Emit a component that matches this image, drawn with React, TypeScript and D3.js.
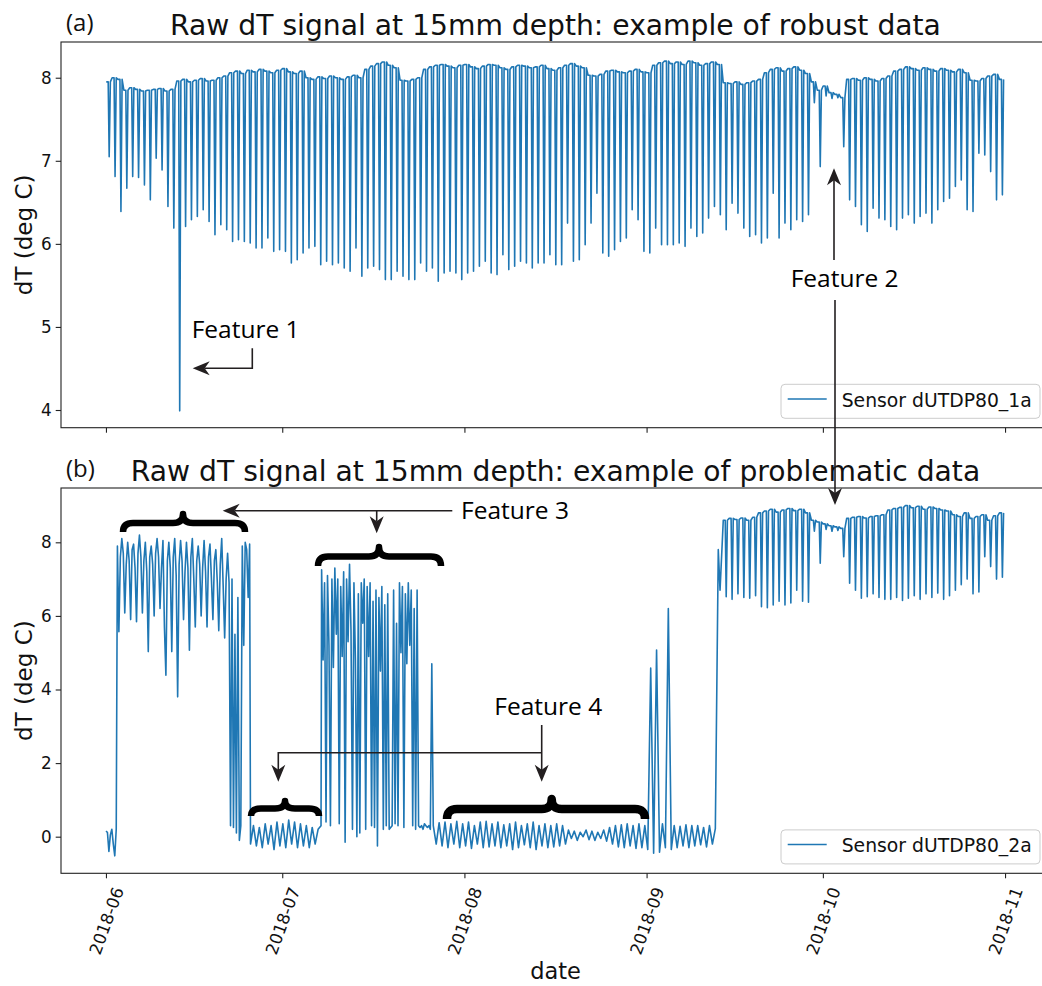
import { useEffect, useRef } from "react";
import * as d3 from "d3";

// ---------- data ----------
// day 0 = 2018-06-01

// sensor dUTDP80_1a: daily plateau and daily dip (one value per day)
const robustHigh = [
  7.95, 8.0, 7.98,
  7.85, 7.88, 7.86, 7.84, 7.85, 7.86, 7.87, 7.84, 7.86,
  7.96, 7.98, 7.95, 7.97, 7.99, 7.96, 7.97, 8.0,
  8.02, 8.06, 8.08, 8.05, 8.09, 8.07, 8.1, 8.08, 8.06, 8.09, 8.11, 8.07, 8.05, 8.08,
  8.0, 7.98, 8.01, 7.99, 8.02, 8.0, 7.98, 8.01, 8.03, 8.0,
  8.1, 8.14, 8.17, 8.19, 8.15, 8.12,
  7.97, 7.96, 7.98, 8.0,
  8.1, 8.13, 8.15, 8.16, 8.14, 8.12, 8.15, 8.16, 8.13, 8.11, 8.14, 8.16, 8.15, 8.12, 8.1, 8.13, 8.15, 8.14, 8.12, 8.13, 8.15, 8.11, 8.09, 8.12,
  8.15, 8.17, 8.14, 8.12,
  8.03, 8.02, 8.04,
  8.08, 8.09, 8.07, 8.06, 8.08, 8.1, 8.07, 8.06,
  8.15, 8.18, 8.2, 8.17, 8.19, 8.16, 8.2, 8.18, 8.15, 8.17, 8.19, 8.16,
  7.94, 7.93, 7.95, 7.92, 7.94, 7.96, 7.98,
  8.06, 8.1, 8.12, 8.08, 8.11, 8.13, 8.09, 8.05, 7.95,
  7.85, 7.9, 7.82, 7.8, 7.76,
  7.98, 7.99, 7.97, 8.0, 7.98, 7.96, 7.99, 8.02,
  8.08, 8.1, 8.13, 8.11, 8.09, 8.12, 8.1, 8.08, 8.11, 8.09, 8.07, 8.1, 8.06,
  7.97, 7.96, 7.99, 8.02, 8.04, 7.98,
];
const robustLow = [
  7.05, 6.81, 6.39, 6.67, 6.81, 6.8, 6.71, 6.53, 7.03, 6.89,
  6.45, 6.19, 3.99, 6.21, 6.29, 6.33, 6.41, 6.27, 6.11, 6.23,
  6.17, 6.03, 6.05, 6.03, 6.01, 5.95, 5.95, 6.07, 5.91, 5.93,
  5.91, 5.77, 5.81, 5.89, 5.95, 5.97, 5.75, 5.79, 5.75, 5.77,
  5.71, 5.67, 5.95, 5.61, 5.71, 5.73, 5.69, 5.57, 5.57, 5.67,
  5.61, 5.57, 5.57, 5.77, 5.67, 5.71, 5.55, 5.65, 5.67, 5.65,
  5.57, 5.65, 5.67, 5.73, 5.79, 5.65, 5.63, 5.87, 5.69, 5.73,
  5.79, 5.77, 5.71, 5.77, 5.77, 5.87, 5.75, 5.75, 6.25, 5.79,
  5.81, 5.99, 6.25, 6.61, 5.89, 5.85, 5.93, 6.03, 6.07, 6.41,
  6.29, 5.91, 5.89, 6.19, 5.99, 5.99, 5.99, 6.01, 5.97, 6.19,
  6.09, 6.13, 6.31, 6.45, 6.35, 6.17, 6.49, 6.37, 6.19, 6.09,
  6.11, 6.01, 6.07, 6.61, 6.07, 6.25, 6.17, 6.29, 6.27, 6.35,
  7.7, 6.93, 7.78, 7.75, 7.76, 7.17, 6.53, 6.45, 6.23, 6.15,
  6.43, 6.31, 6.29, 6.21, 6.17, 6.31, 6.35, 6.25, 6.33, 6.37,
  6.25, 6.41, 6.51, 6.55, 6.69, 6.77, 6.41, 6.39, 7.09, 7.07,
  6.87, 6.53, 6.59,
];

// sensor dUTDP80_2a, read piece by piece
const probLead = [0.15, 0.12, -0.4, 0.05, 0.2, -0.2, -0.52, 0.2]; // 6-hourly, from day 0
const probBurst1 = [ // 6-hourly, from day 1.95
  7.9, 5.57, 7.6, 8.1, 7.7, 6.08, 7.4, 8.0, 7.5, 5.9, 7.8, 7.95,
  7.3, 5.84, 7.7, 8.2, 7.6, 6.08, 7.5, 8.0, 7.2, 5.03, 7.6, 7.9,
  7.4, 6.0, 7.7, 8.1, 7.6, 6.2, 7.3, 8.05, 5.7, 4.39, 7.5, 8.0,
  7.3, 5.03, 7.6, 8.1, 7.1, 3.8, 7.4, 8.05, 7.5, 5.9, 7.2, 8.0,
  7.3, 5.07, 7.6, 8.1, 7.0, 5.7, 7.5, 7.9, 7.4, 6.0, 7.3, 8.05,
  7.2, 5.7, 7.6, 7.95, 7.0, 5.9, 7.5, 7.8, 6.9, 5.6, 7.4, 8.1,
  6.8, 5.4, 7.0, 7.7, 6.9, 0.3, 7.0, 0.25, 5.5, 0.1, 6.5, -0.1,
  0.3, 7.9, 5.2, 8.0, 7.8, 6.5, 7.95,
];
const probFlat1 = [ // 12-hourly, from day 24.6
  -0.2, 0.3, -0.25, 0.25, -0.3, 0.35, -0.2, 0.3, -0.35, 0.4, -0.25, 0.35, -0.3,
  0.45, -0.2, 0.4, -0.3, 0.35, -0.25, 0.3, -0.3, 0.25, -0.2, 0.2, 0.3,
];
const probBurst2 = [ // 6-hourly, from day 36.7
  7.25, 4.8, 6.9, 0.4, 7.1, 5.2, 0.3, 7.0, 4.6, 7.3, 5.5, 7.0,
  0.35, 6.8, 4.9, 7.2, -0.15, 7.0, 5.3, 7.4, 5.6, 0.2, 6.9, 4.8,
  0.0, 6.6, 0.1, 6.9, 5.8, 7.0, 0.2, 6.8, 4.9, 6.9, 0.3, 6.4,
  0.25, 6.7, -0.25, 6.5, 4.5, 6.8, 0.2, 6.3, 0.3, 6.6, 0.2, 0.25,
  0.3, 6.7, 0.35, 5.8, 0.3, 6.9, 5.0, 6.8, 0.25, 6.6, 4.7, 6.9,
  5.2, 6.7, 0.3, 6.2, 0.2, 6.7, 0.3, 0.25, 0.3, 0.2, 0.35, 0.3,
  0.25, 0.3, 0.2, 4.7,
];
const probFlat2 = [ // 12-hourly, from day 55.7
  0.3, -0.2, 0.38, -0.25, 0.4, -0.3, 0.35, -0.2, 0.42, -0.3,
  0.35, -0.25, 0.4, -0.32, 0.3, -0.2, 0.4, -0.3, 0.42, -0.28,
  0.35, -0.25, 0.4, -0.3, 0.32, -0.25, 0.35, -0.35, 0.4, -0.3,
  0.3, -0.22, 0.35, -0.3, 0.4, -0.35, 0.3, -0.25, 0.35, -0.3,
  0.3, -0.28, 0.35, -0.25, 0.3, -0.2, 0.18, -0.05, 0.15, -0.1,
  0.12, 0.0, 0.18, -0.08, 0.15, -0.1, 0.12, -0.05, 0.18, -0.12,
  0.25, -0.2, 0.3, -0.28, 0.32, -0.3, 0.35, -0.25, 0.3, -0.32,
  0.35, -0.3, 0.3, -0.35, 4.58, -0.45, 5.07, -0.42, 0.35, -0.3,
  6.2, -0.35, 0.3, -0.3, 0.28, -0.25, 0.32, -0.3, 0.3, -0.25,
  0.3, -0.22, 0.25, -0.28, 0.3, -0.2, 0.22,
];
const probRise = [7.8, 6.7]; // from day 104.2
// daily plateau / dip from day 105
const probHigh = [
  8.6, 8.65, 8.62, 8.66, 8.6, 8.68,
  8.8, 8.85, 8.9, 8.82, 8.88, 8.92, 8.86, 8.9, 8.8,
  8.6, 8.55, 8.5, 8.45, 8.42, 8.38,
  8.65, 8.68, 8.7, 8.66, 8.7, 8.72, 8.75,
  8.88, 8.92, 8.95, 9.0, 8.94, 8.98, 8.9, 8.96, 8.92, 8.88, 8.85,
  8.75, 8.7, 8.8, 8.65, 8.7, 8.75, 8.6, 8.72, 8.8,
];
const probLow = [
  6.52, 6.45, 6.6, 6.5, 6.48, 6.55, 6.25, 6.22, 6.3, 6.4, 6.3, 6.35, 6.7, 6.4, 6.37,
  8.3, 7.43, 8.35, 8.3, 8.32, 7.61,
  6.89, 6.7, 6.48, 6.52, 6.6, 6.5, 6.45,
  6.45, 6.5, 6.42, 6.48, 6.55, 6.45, 6.6, 6.5, 6.62, 6.45, 6.55,
  6.7, 6.85, 7.0, 6.6, 6.65, 7.61, 7.34, 7.0, 7.05,
];

const yTicksA = [4, 5, 6, 7, 8];
const yTicksB = [0, 2, 4, 6, 8];

// ---------- helpers ----------
const DAY = 864e5;
const T0 = Date.UTC(2018, 5, 1);
const toDate = (d) => new Date(T0 + d * DAY);

function dailyCycle(startDay, highs, lows) {
  const pts = [];
  highs.forEach((h, i) => {
    const d = startDay + i;
    pts.push([d + 0.05, h], [d + 0.38, h], [d + 0.55, lows[i]], [d + 0.75, h]);
  });
  return pts;
}

function sampled(startDay, step, values) {
  return values.map((v, i) => [startDay + i * step, v]);
}

const robustSeries = dailyCycle(0, robustHigh, robustLow);
const problemSeries = [
  ...sampled(0, 0.25, probLead),
  ...sampled(1.95, 0.25, probBurst1),
  ...sampled(24.6, 0.5, probFlat1),
  ...sampled(36.7, 0.25, probBurst2),
  ...sampled(55.7, 0.5, probFlat2),
  ...sampled(104.2, 0.3, probRise),
  ...dailyCycle(105, probHigh, probLow),
];

const BLUE = "#1f77b4";
const INK = "#231f20";
const MPL = "DejaVu Sans, sans-serif";
const ANN = "'Open Sans', 'Noto Sans', sans-serif";

function arrowHead(g, x, y, angle) {
  g.append("path")
    .attr("d", "M0,0L-17,-7L-12,0L-17,7Z")
    .attr("fill", INK)
    .attr("transform", `translate(${x},${y}) rotate(${angle})`);
}

function brace(g, x0, x1, xm, yTip, yEnd, w) {
  const yb = yTip + (yEnd - yTip) * 0.5;
  const r = 10;
  g.append("path")
    .attr("d",
      `M${x0},${yEnd}Q${x0},${yb} ${x0 + r},${yb}L${xm - r},${yb}Q${xm},${yb} ${xm},${yTip}` +
      `Q${xm},${yb} ${xm + r},${yb}L${x1 - r},${yb}Q${x1},${yb} ${x1},${yEnd}`)
    .attr("fill", "none")
    .attr("stroke", "#000")
    .attr("stroke-width", w)
    .attr("stroke-linejoin", "round");
}

function App() {
  const ref = useRef(null);

  useEffect(() => {
    const svg = d3.select(ref.current);
    svg.selectAll("*").remove();

    const left = 61, right = 1050;
    const x = d3.scaleUtc().domain([toDate(-7.65), toDate(160.65)]).range([left, right]);

    const panels = [
      { top: 42, bottom: 427.7, dom: [3.787, 8.43], ticks: yTicksA, data: robustSeries,
        title: "Raw dT signal at 15mm depth: example of robust data", tag: "(a)",
        legend: "Sensor dUTDP80_1a", labels: false },
      { top: 488, bottom: 873.3, dom: [-0.995, 9.476], ticks: yTicksB, data: problemSeries,
        title: "Raw dT signal at 15mm depth: example of problematic data", tag: "(b)",
        legend: "Sensor dUTDP80_2a", labels: true },
    ];

    panels.forEach((p, k) => {
      const y = d3.scaleLinear().domain(p.dom).range([p.bottom, p.top]);
      const g = svg.append("g");

      const clipId = `clip-${k}`;
      g.append("clipPath").attr("id", clipId)
        .append("rect").attr("x", left).attr("y", p.top)
        .attr("width", right - left).attr("height", p.bottom - p.top);

      // series
      const line = d3.line().x(d => x(toDate(d[0]))).y(d => y(d[1]));
      g.append("path")
        .attr("clip-path", `url(#${clipId})`)
        .attr("d", line(p.data))
        .attr("fill", "none")
        .attr("stroke", BLUE)
        .attr("stroke-width", 1.6)
        .attr("stroke-linejoin", "round");

      // frame
      g.append("rect").attr("x", left).attr("y", p.top)
        .attr("width", right - left).attr("height", p.bottom - p.top)
        .attr("fill", "none").attr("stroke", "#222").attr("stroke-width", 1.1);

      // y axis
      const ya = g.append("g").attr("transform", `translate(${left},0)`)
        .call(d3.axisLeft(y).tickValues(p.ticks).tickFormat(d3.format("d"))
          .tickSize(5.3).tickPadding(4).tickSizeOuter(0));
      ya.select(".domain").remove();
      ya.selectAll("line").attr("stroke", "#222").attr("stroke-width", 1.1);
      ya.selectAll("text").attr("font-size", 16.8).attr("font-family", MPL).attr("fill", "#111");

      // x axis
      const xa = g.append("g").attr("transform", `translate(0,${p.bottom})`)
        .call(d3.axisBottom(x).ticks(d3.utcMonth.every(1)).tickFormat(p.labels ? d3.utcFormat("%Y-%m") : () => "")
          .tickSize(5).tickSizeOuter(0));
      xa.select(".domain").remove();
      xa.selectAll("line").attr("stroke", "#222").attr("stroke-width", 1.1);
      xa.selectAll("text")
        .attr("font-size", 16.8).attr("font-family", MPL).attr("fill", "#111")
        .attr("text-anchor", "end").attr("y", null).attr("dy", null)
        .attr("transform", "translate(17.6,16.7) rotate(-70)");

      // y label
      g.append("text")
        .attr("transform", `translate(31.5,${(p.top + p.bottom) / 2}) rotate(-90)`)
        .attr("text-anchor", "middle").attr("font-family", MPL).attr("font-size", 23)
        .attr("fill", "#111").text("dT (deg C)");

      // title + panel tag
      g.append("text").attr("x", (left + right) / 2).attr("y", p.top - 7)
        .attr("text-anchor", "middle").attr("font-family", MPL).attr("font-size", 28.2)
        .attr("fill", "#111").text(p.title);
      g.append("text").attr("x", 66).attr("y", p.top - 11)
        .attr("font-family", ANN).attr("font-size", 24).attr("fill", "#111").text(p.tag);

      // legend
      const ly = p.bottom - 43.4;
      const lg = g.append("g");
      lg.append("rect").attr("x", 781).attr("y", ly).attr("width", 259).attr("height", 34).attr("rx", 4)
        .attr("fill", "#fff").attr("fill-opacity", 0.8).attr("stroke", "#ccc");
      lg.append("line").attr("x1", 787.7).attr("x2", 826.7).attr("y1", ly + 14.7).attr("y2", ly + 14.7)
        .attr("stroke", BLUE).attr("stroke-width", 1.5);
      lg.append("text").attr("x", 841.7).attr("y", ly + 22.4)
        .attr("font-family", MPL).attr("font-size", 18.8).attr("fill", "#111").text(p.legend);
    });

    // x label
    svg.append("text").attr("x", (left + right) / 2).attr("y", 979)
      .attr("text-anchor", "middle").attr("font-family", MPL).attr("font-size", 22.5)
      .attr("fill", "#111").text("date");

    // ---------- annotations ----------
    const ann = svg.append("g");
    const stroke = (d) => ann.append("path").attr("d", d).attr("fill", "none")
      .attr("stroke", INK).attr("stroke-width", 1.6);
    const label = (tx, ty, s) => ann.append("text").attr("x", tx).attr("y", ty)
      .attr("font-family", ANN).attr("font-size", 24.5).attr("fill", "#000").text(s);

    // Feature 1
    label(191.7, 338.3, "Feature 1");
    stroke("M252.3,348.3V368.3H205");
    arrowHead(ann, 192.7, 368.3, 180);

    // Feature 2
    label(790.7, 287.3, "Feature 2");
    stroke("M834,260V180");
    arrowHead(ann, 834, 168.3, -90);
    stroke("M835,300V493");
    arrowHead(ann, 835, 505, 90);

    // Feature 3
    label(461, 519.3, "Feature 3");
    stroke("M452.3,510.7H235");
    arrowHead(ann, 222.7, 510.7, 180);
    stroke("M376.7,510.7V521");
    arrowHead(ann, 376.7, 533.3, 90);
    brace(ann, 123, 245, 183, 514, 532, 6.5);
    brace(ann, 318, 441, 379, 547, 566, 6.5);

    // Feature 4
    label(494.3, 715, "Feature 4");
    stroke("M541.7,725V770");
    arrowHead(ann, 541.7, 781.7, 90);
    stroke("M541.7,752.7H278.3V770");
    arrowHead(ann, 278.3, 781.7, 90);
    brace(ann, 251, 319, 285, 801, 816, 6.5);
    brace(ann, 447, 645, 551.7, 799, 819, 8.5);
  }, []);

  return (
    <svg ref={ref} width={1042} height={986}
      style={{ position: "absolute", left: 0, top: 0, background: "#fff" }} />
  );
}

export default App;
